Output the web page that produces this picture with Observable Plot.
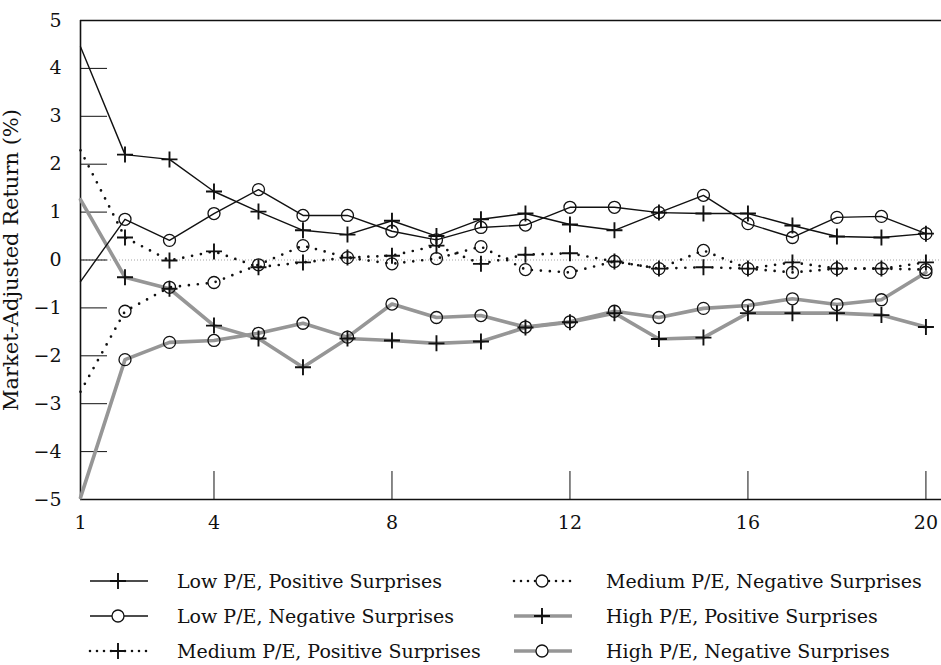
<!DOCTYPE html>
<html><head><meta charset="utf-8">
<script src="https://cdn.jsdelivr.net/npm/d3@7"></script>
<script src="https://cdn.jsdelivr.net/npm/@observablehq/plot@0.6"></script>
<style>
body{margin:0;background:#fff;font-family:"DejaVu Serif",serif;}
#wrap{position:relative;width:941px;height:665px;}
#legend{position:absolute;left:0;top:540px;width:941px;height:125px;}
.item{position:absolute;height:30px;display:flex;align-items:center;font-size:19px;color:#111;white-space:nowrap;}
</style></head><body>
<div id="wrap"><div id="chart"></div><div id="legend"></div></div>
<script>
const periods = [1,2,3,4,5,6,7,8,9,10,11,12,13,14,15,16,17,18,19,20];
const xTicks = [1,4,8,12,16,20];
const yTicks = [-5,-4,-3,-2,-1,0,1,2,3,4,5];
const seriesNames = [
  "Low P/E, Positive Surprises",
  "Low P/E, Negative Surprises",
  "Medium P/E, Positive Surprises",
  "Medium P/E, Negative Surprises",
  "High P/E, Positive Surprises",
  "High P/E, Negative Surprises"
];
const lowPos  = [4.45, 2.2, 2.1, 1.43, 1.01, 0.62, 0.53, 0.82, 0.5, 0.85, 0.97, 0.74, 0.62, 0.99, 0.97, 0.97, 0.72, 0.49, 0.47, 0.55];
const lowNeg  = [-0.45, 0.85, 0.41, 0.97, 1.47, 0.93, 0.93, 0.6, 0.42, 0.68, 0.73, 1.1, 1.1, 0.99, 1.35, 0.76, 0.47, 0.89, 0.91, 0.55];
const medPos  = [2.29, 0.47, -0.01, 0.18, -0.15, -0.05, 0.05, 0.09, 0.3, -0.08, 0.11, 0.14, -0.03, -0.18, -0.15, -0.18, -0.05, -0.18, -0.18, -0.05];
const medNeg  = [-2.75, -1.07, -0.57, -0.47, -0.1, 0.3, 0.05, -0.08, 0.03, 0.28, -0.2, -0.26, -0.03, -0.18, 0.2, -0.18, -0.26, -0.18, -0.18, -0.2];
const highPos = [1.26, -0.36, -0.6, -1.37, -1.64, -2.24, -1.64, -1.68, -1.74, -1.7, -1.41, -1.3, -1.11, -1.65, -1.62, -1.11, -1.11, -1.11, -1.15, -1.4];
const highNeg = [-4.96, -2.08, -1.72, -1.68, -1.53, -1.32, -1.61, -0.92, -1.2, -1.16, -1.4, -1.29, -1.07, -1.2, -1.01, -0.95, -0.81, -0.93, -0.83, -0.26];

const allValues = [lowPos, lowNeg, medPos, medNeg, highPos, highNeg];
const rows = [];
allValues.forEach((vals, i) => vals.forEach((v, j) => rows.push({series: seriesNames[i], idx: i, period: periods[j], value: v})));
const bySeries = (ids) => rows.filter(d => ids.includes(d.idx));
const markerRows = (ids) => bySeries(ids).filter(d => d.period > periods[0]);

const plusSymbol = {draw(ctx, size){ const r = Math.sqrt(size/Math.PI); ctx.moveTo(-r,0); ctx.lineTo(r,0); ctx.moveTo(0,-r); ctx.lineTo(0,r); }};
const GRAY = "#969696";

const chart = Plot.plot({
  width: 941, height: 540,
  marginLeft: 80, marginRight: 0, marginTop: 20, marginBottom: 41,
  style: {fontFamily: "DejaVu Serif, serif", fontSize: "18px", color: "#111", background: "#fff"},
  x: {domain: [1, 20.35], ticks: xTicks, tickFormat: d => String(d)},
  y: {domain: [-5, 5], ticks: yTicks},
  marks: [
    Plot.ruleY([0], {stroke: "#999", strokeWidth: 0.9, strokeDasharray: "1,2"}),
    Plot.ruleY([-5], {stroke: "#111", strokeWidth: 1.6}),
    Plot.ruleY([5], {stroke: "#111", strokeWidth: 1.6}),
    Plot.ruleX([1], {stroke: "#111", strokeWidth: 1.6}),
    Plot.axisX({ticks: xTicks, tickSize: -28, tickPadding: 44, label: null, fontSize: 19, stroke: "#111", tickFormat: d => String(d)}),
    Plot.axisY({ticks: yTicks, tickSize: -27, tickPadding: 46, fontSize: 19, label: null, stroke: "#111"}),
    Plot.axisY({ticks: [], tickSize: 0, label: "Market-Adjusted Return (%)", labelAnchor: "center", labelOffset: 77, labelArrow: "none", fontSize: 21}),
    Plot.line(bySeries([4,5]), {x: "period", y: "value", z: "series", stroke: GRAY, strokeWidth: 3.6}),
    Plot.line(bySeries([0,1]), {x: "period", y: "value", z: "series", stroke: "#111", strokeWidth: 1.4}),
    Plot.line(bySeries([2,3]), {x: "period", y: "value", z: "series", stroke: "#111", strokeWidth: 2.7, strokeDasharray: "0,9", strokeLinecap: "round"}),
    Plot.dot(markerRows([1,3,5]), {x: "period", y: "value", r: 6, stroke: "#111", strokeWidth: 1.3, fill: "none"}),
    Plot.dot(markerRows([0,2,4]), {x: "period", y: "value", r: 8, symbol: plusSymbol, stroke: "#111", strokeWidth: 1.9, fill: "none"})
  ]
});
document.getElementById("chart").appendChild(chart);

// Legend
const legend = document.getElementById("legend");
const lineStyles = [
  {stroke: "#111", width: 1.4, dash: null, marker: "plus"},
  {stroke: "#111", width: 1.4, dash: null, marker: "circle"},
  {stroke: "#111", width: 2.6, dash: "0,7", marker: "plus"},
  {stroke: "#111", width: 2.6, dash: "0,7", marker: "circle"},
  {stroke: GRAY, width: 3.6, dash: null, marker: "plus"},
  {stroke: GRAY, width: 3.6, dash: null, marker: "circle"}
];
const colLeft = [88, 512];
const textLeft = [177, 606];
const rowTop = [26, 61, 96];
seriesNames.forEach((name, i) => {
  const col = Math.floor(i / 3), row = i % 3;
  const s = lineStyles[i];
  const item = document.createElement("div");
  item.className = "item";
  item.style.left = colLeft[col] + "px";
  item.style.top = rowTop[row] + "px";
  const w = textLeft[col] - colLeft[col];
  const sw = 60;
  const cx = sw / 2;
  const marker = s.marker === "plus"
    ? `<path d="M${cx-8},15H${cx+8}M${cx},7V23" stroke="#111" stroke-width="1.9" fill="none"/>`
    : `<circle cx="${cx}" cy="15" r="6" stroke="#111" stroke-width="1.3" fill="#fff"/>`;
  item.innerHTML = `<svg width="${w}" height="30"><line x1="2" x2="${sw}" y1="15" y2="15" stroke="${s.stroke}" stroke-width="${s.width}" ${s.dash ? `stroke-dasharray="${s.dash}" stroke-linecap="round"` : ""}/>${marker}</svg><span>${name}</span>`;
  legend.appendChild(item);
});
</script>
</body></html>
